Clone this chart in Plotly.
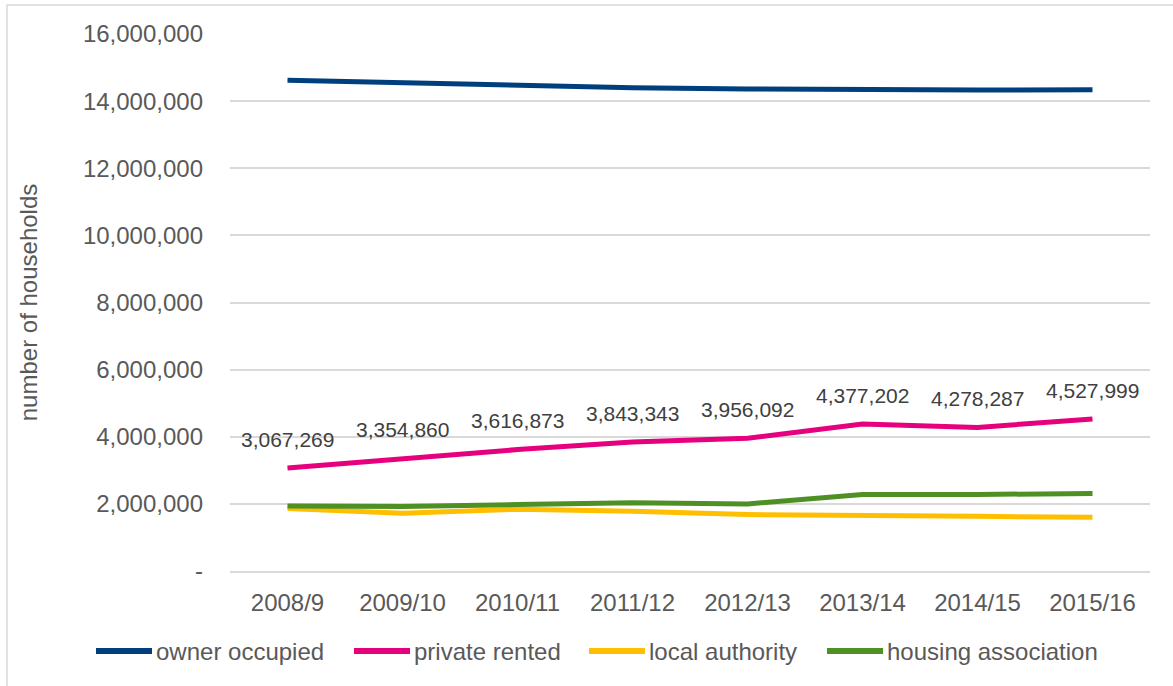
import plotly.graph_objects as go

years = ["2008/9", "2009/10", "2010/11", "2011/12", "2012/13", "2013/14", "2014/15", "2015/16"]
owner_occupied = [14620000, 14540000, 14460000, 14400000, 14360000, 14340000, 14330000, 14340000]
private_rented = [3067269, 3354860, 3616873, 3843343, 3956092, 4377202, 4278287, 4527999]
local_authority = [1860000, 1720000, 1840000, 1780000, 1680000, 1640000, 1630000, 1600000]
housing_association = [1940000, 1920000, 1980000, 2030000, 2000000, 2280000, 2280000, 2310000]

y_ticks = [0, 2000000, 4000000, 6000000, 8000000, 10000000, 12000000, 14000000, 16000000]
y_ticktext = ["-", "2,000,000", "4,000,000", "6,000,000", "8,000,000", "10,000,000",
              "12,000,000", "14,000,000", "16,000,000"]

series_names = ["owner occupied", "private rented", "local authority", "housing association"]
series_values = [owner_occupied, private_rented, local_authority, housing_association]
series_colors = ["#003f7d", "#e6007e", "#ffbf00", "#4e9024"]

FONT = "Arial, 'Liberation Sans', sans-serif"

# plot area in pixels (for placing legend / border in paper coordinates)
L, R, T, B = 230, 23, 34, 115
W, H = 1173, 686
PW, PH = W - L - R, H - T - B


def px_x(px):
    return (px - L) / PW


def px_y(py):
    return (H - B - py) / PH


fig = go.Figure()
for name, vals, color in zip(series_names, series_values, series_colors):
    fig.add_trace(go.Scatter(x=years, y=vals, name=name, mode="lines",
                             line=dict(color=color, width=5), showlegend=False))

for x, v in zip(years, private_rented):
    fig.add_annotation(x=x, y=v, text=f"{v:,}", showarrow=False, yshift=29,
                       font=dict(family=FONT, size=21, color="#404040"))

# legend drawn below the plot (line sample + label)
legend_line_start = [96, 354, 589, 827]
legend_y = 651
for name, color, lx in zip(series_names, series_colors, legend_line_start):
    fig.add_shape(type="line", xref="paper", yref="paper",
                  x0=px_x(lx), x1=px_x(lx + 56), y0=px_y(legend_y), y1=px_y(legend_y),
                  line=dict(color=color, width=6))
    fig.add_annotation(xref="paper", yref="paper", x=px_x(lx + 58), y=px_y(legend_y),
                       xanchor="left", yanchor="middle", text=name, showarrow=False,
                       font=dict(family=FONT, size=24, color="#595959"))

# chart border (left/top visible)
fig.add_shape(type="rect", xref="paper", yref="paper",
              x0=px_x(7), x1=2, y0=-2, y1=px_y(5),
              line=dict(color="#d9d9d9", width=1.5), fillcolor="rgba(0,0,0,0)", layer="below")

fig.update_layout(
    width=W, height=H,
    margin=dict(l=L, r=R, t=T, b=B),
    paper_bgcolor="white", plot_bgcolor="white",
    font=dict(family=FONT, size=24, color="#595959"),
    showlegend=False,
    xaxis=dict(type="category", range=[-0.5, 7.5], showgrid=False,
               showline=True, linecolor="#d9d9d9", linewidth=1.5,
               ticks="", ticklabelstandoff=9,
               tickfont=dict(family=FONT, size=24, color="#595959")),
    yaxis=dict(range=[0, 16000000], tickvals=y_ticks, ticktext=y_ticktext,
               showgrid=True, gridcolor="#d9d9d9", gridwidth=1.5,
               zeroline=False, showline=False, ticks="", ticklabelstandoff=26,
               tickfont=dict(family=FONT, size=24, color="#595959"),
               title=dict(text="number of households", standoff=38,
                          font=dict(family=FONT, size=24, color="#595959"))),
)

fig.write_html("out.html", config={"displayModeBar": False},
               post_script="document.body.style.margin='0px';")
